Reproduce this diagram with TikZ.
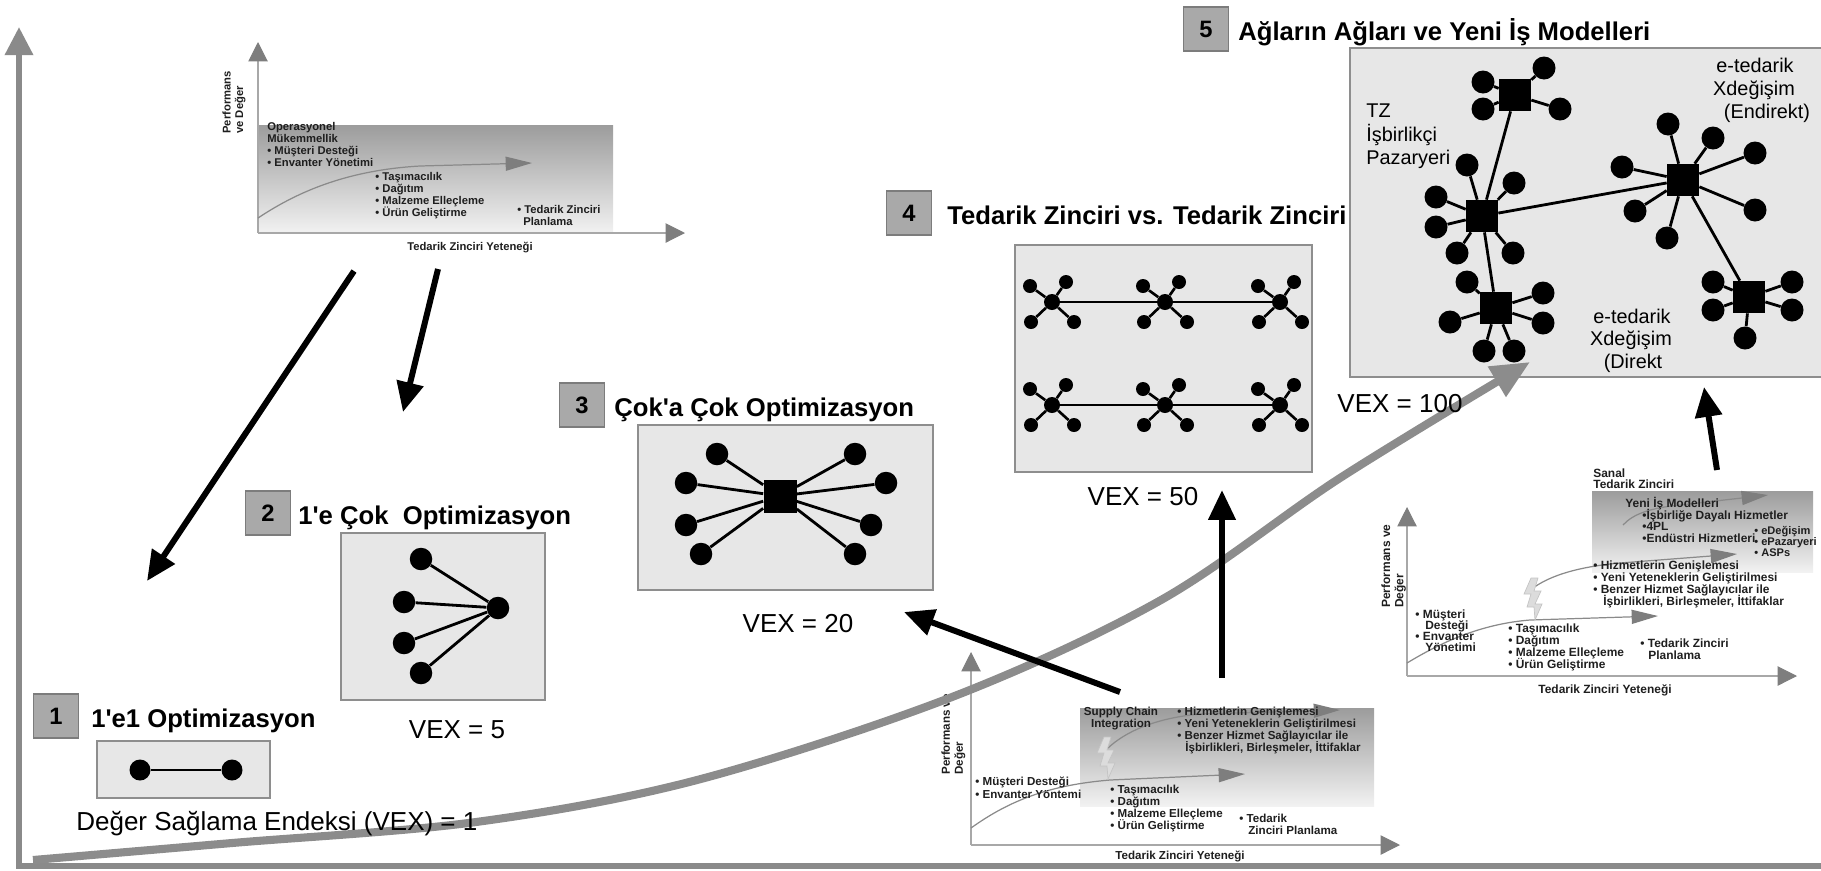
\documentclass[tikz,border=0pt]{standalone}
\usepackage{fontspec}
\setmainfont{Liberation Sans}
\usetikzlibrary{arrows.meta}

\definecolor{numfill}{HTML}{A9A9A9}
\definecolor{numedge}{HTML}{7C7C7C}
\definecolor{panelfill}{HTML}{E7E7E7}
\definecolor{paneledge}{HTML}{8E8E8E}
\definecolor{axisgray}{HTML}{8A8A8A}
\definecolor{growthgray}{HTML}{8C8C8C}
\definecolor{minorline}{HTML}{A8A8A8}
\definecolor{minorhead}{HTML}{7E7E7E}
\definecolor{trendline}{HTML}{8A8A8A}
\definecolor{shadetop}{HTML}{9C9C9C}
\definecolor{shadebottom}{HTML}{F2F2F2}
\definecolor{chartink}{HTML}{1E1E1E}
\definecolor{boltfill}{HTML}{DCDCDC}
\definecolor{boltedge}{HTML}{C4C4C4}

% one line of small chart text per entry, stacked downwards
\newcommand\chartlines[5]{%
  \foreach \cl [count=\i from 0] in {#5}{\node[chartlbl] (#1-\i) at (#2,{#3+#4*\i}) {\cl};}}

\tikzset{
  bolt/.pic={\filldraw[fill=boltfill,draw=boltedge,line width=0.4pt]
    (0,0) -- (7,0) -- (3,13) -- (10,13) -- (4,26) -- (11,26) -- (4,42) -- (3,29) -- (-4,29) -- (0,16) -- (-7,16) -- cycle;}
}

\begin{document}
\begin{tikzpicture}[x=0.02cm, y=-0.02cm,
  numbox/.style={draw=numedge, fill=numfill, line width=0.9pt, minimum width=0.9cm, minimum height=0.88cm, inner sep=0pt, font=\bfseries\fontsize{13.5}{15}\selectfont},
  heading/.style={anchor=base west, inner sep=0pt, font=\bfseries\fontsize{14.6}{17}\selectfont},
  vexlabel/.style={anchor=base, inner sep=0pt, font=\fontsize{14.8}{17}\selectfont},
  panel/.style={draw=paneledge, fill=panelfill, line width=0.9pt},
  dot/.style={circle, fill=black, inner sep=0pt, minimum size=0.45cm},
  hub/.style={rectangle, fill=black, inner sep=0pt, minimum size=0.64cm},
  link/.style={line width=1.6pt},
  sdot/.style={circle, fill=black, inner sep=0pt, minimum size=0.28cm},
  shub/.style={circle, fill=black, inner sep=0pt, minimum size=0.32cm},
  slink/.style={line width=1.5pt},
  sbar/.style={line width=1.1pt},
  jump/.style={line width=3.4pt, -{Triangle[length=17pt,width=15pt]}},
  mainaxis/.style={draw=axisgray, line width=3.4pt},
  growth/.style={draw=growthgray, line width=4.6pt, -{Triangle[length=22pt,width=19pt]}},
  smallaxis/.style={draw=minorline, line width=0.6pt, -{Triangle[length=11pt,width=11pt,color=minorhead]}},
  trend/.style={draw=trendline, line width=0.7pt, -{Triangle[length=15pt,width=8pt,color=minorhead]}},
  chartlbl/.style={anchor=base west, inner sep=0pt, text=chartink, font=\bfseries\fontsize{6.4}{7.2}\selectfont},
  chartcap/.style={chartlbl, anchor=base},
  ylab/.style={chartlbl, rotate=90, anchor=north west, align=left},
  netlbl/.style={anchor=base, inner sep=0pt, font=\fontsize{11.3}{13}\selectfont},
  netlblw/.style={netlbl, anchor=base west},
]
\useasboundingbox (0,0) rectangle (1821,870);
\clip (0,0) rectangle (1821,870);

% ---------------- main axes ----------------
\coordinate (origin) at (19,866);
\coordinate (ytop) at (19,27);
\coordinate (xend) at (1840,866);
\draw[mainaxis, {Triangle[length=16pt,width=15.5pt,color=axisgray]}-] (ytop) -- (origin) -- (xend);

% ---------------- stage 1 ----------------
\node[numbox] (n1) at (56,716) {1};
\node[heading] (t1) at (91,727) {1\textquotesingle e1 Optimizasyon};
\path[panel] (97,741) rectangle (270,798);
\node[dot, minimum size=0.42cm] (a1) at (140,770) {};
\node[dot, minimum size=0.42cm] (a2) at (232,770) {};
\draw[link] (a1) -- (a2);

% ---------------- stage 2 ----------------
\node[numbox] (n2) at (268,513) {2};
\node[heading] (t2) at (298,524) {1\textquotesingle e Çok\ \ Optimizasyon};
\path[panel] (341,533) rectangle (545,700);
\node[dot] (b0) at (498,608) {};
\node[dot] (b1) at (421,559) {};
\node[dot] (b2) at (404,602) {};
\node[dot] (b3) at (404,643) {};
\node[dot] (b4) at (421,673) {};
\foreach \k in {1,...,4} \draw[link] (b0) -- (b\k);

% ---------------- stage 3 ----------------
\node[numbox] (n3) at (582,405) {3};
\node[heading] (t3) at (614,416) {Çok\textquotesingle a Çok Optimizasyon};
\path[panel] (638,425) rectangle (933,590);
\node[hub, minimum size=0.66cm] (c0) at (780,496) {};
\foreach \k/\px/\py in {1/717/454, 2/686/483, 3/686/525, 4/701/554, 5/855/454, 6/886/483, 7/871/525, 8/855/554}{
  \node[dot] (c\k) at (\px,\py) {};
  \draw[link] (c0) -- (c\k);
}

% ---------------- stage 4 ----------------
\node[numbox] (n4) at (909,213) {4};
\node[heading] (t4) at (947,224) {Tedarik Zinciri vs. Tedarik Zinciri};
\path[panel] (1015,245) rectangle (1312,472);
\foreach \r/\yy in {a/302, b/405}{
  \foreach \c/\xx in {1/1052, 2/1165, 3/1280}{
    \node[shub] (s\r\c) at (\xx,\yy) {};
    \foreach \k/\dx/\dy in {1/-22/-16, 2/14/-20, 3/-21/20, 4/22/20}{
      \node[sdot] (s\r\c d\k) at ({\xx+(\dx)},{\yy+(\dy)}) {};
      \draw[slink] (s\r\c) -- (s\r\c d\k);
    }
  }
  \draw[sbar] (s\r1) -- (s\r2) -- (s\r3);
}

% ---------------- stage 5 ----------------
\node[numbox] (n5) at (1206,29) {5};
\node[heading] (t5) at (1238,40) {Ağların Ağları ve Yeni İş Modelleri};
\path[panel] (1350,48) rectangle (1840,377);
\node[hub] (h1) at (1515,95) {};
\node[hub] (h2) at (1482,216) {};
\node[hub] (h3) at (1496,308) {};
\node[hub] (h4) at (1683,180) {};
\node[hub] (h5) at (1749,297) {};
\draw[link] (h2) -- (h1);
\draw[link] (h2) -- (h3);
\draw[link] (h2) -- (h4);
\draw[link] (h4) -- (h5);
\foreach \h/\k/\px/\py in {
  1/1/1483/82, 1/2/1483/109, 1/3/1544/68, 1/4/1560/109,
  2/1/1467/165, 2/2/1514/183, 2/3/1436/197, 2/4/1436/227, 2/5/1457/253, 2/6/1513/253,
  3/1/1467/282, 3/2/1543/293, 3/3/1450/322, 3/4/1543/323, 3/5/1484/351, 3/6/1514/351,
  4/1/1668/124, 4/2/1713/138, 4/3/1755/153, 4/4/1622/167, 4/5/1635/211, 4/6/1755/210, 4/7/1667/238,
  5/1/1713/282, 5/2/1792/282, 5/3/1713/310, 5/4/1792/310, 5/5/1745/338}{
  \node[dot, minimum size=0.46cm] (h\h d\k) at (\px,\py) {};
  \draw[link] (h\h) -- (h\h d\k);
}
\node[netlblw] (tz1) at (1366,117) {TZ};
\node[netlblw] (tz2) at (1366,141) {İşbirlikçi};
\node[netlblw] (tz3) at (1366,164) {Pazaryeri};
\node[netlbl] (ei1) at (1755,72) {e-tedarik};
\node[netlbl] (ei2) at (1754,95) {Xdeğişim};
\node[netlbl] (ei3) at (1767,118) {(Endirekt)};
\node[netlbl] (ed1) at (1632,323) {e-tedarik};
\node[netlbl] (ed2) at (1631,345) {Xdeğişim};
\node[netlbl] (ed3) at (1633,368) {(Direkt};

% ---------------- small chart: operational excellence ----------------
\shade[top color=shadetop, bottom color=shadebottom] (258,125) rectangle (613,233);
\coordinate (tlO) at (258,233);
\coordinate (tlY) at (258,42);
\coordinate (tlX) at (685,233);
\draw[smallaxis] (tlO) -- (tlY);
\draw[smallaxis] (tlO) -- (tlX);
\coordinate (tlS) at (258,218);
\coordinate (tlE) at (532,163);
\draw[trend] (tlS) .. controls (300,190) and (350,170) .. (420,166) -- (tlE);
\chartlines{tlA}{267}{130}{12}{Operasyonel,Mükemmellik,{• Müşteri Desteği},{• Envanter Yönetimi}}
\chartlines{tlB}{375}{180}{12}{{• Taşımacılık},{• Dağıtım},{• Malzeme Elleçleme},{• Ürün Geliştirme}}
\node[chartlbl] (tlC) at (517,213) {• Tedarik Zinciri};
\node[chartlbl] (tlD) at (523,225) {Planlama};
\node[chartcap] (tlCap) at (470,250) {Tedarik Zinciri Yeteneği};
\node[ylab] (tlLab) at (222,134) {Performans\\ve Değer};

% ---------------- small chart: supply chain integration ----------------
\begin{scope}[chartlbl/.append style={font=\bfseries\fontsize{6.6}{7.4}\selectfont}]
\shade[top color=shadetop, bottom color=shadebottom] (1080,708) rectangle (1374,806);
\coordinate (bcO) at (971,845);
\coordinate (bcY) at (971,652);
\coordinate (bcX) at (1400,845);
\draw[smallaxis] (bcO) -- (bcY);
\draw[smallaxis] (bcO) -- (bcX);
\draw[trend] (971,828) .. controls (1010,800) and (1050,785) .. (1110,780) -- (1245,774);
\draw[trend] (1108,748) .. controls (1125,732) and (1155,718) .. (1200,714) -- (1340,710);
\pic at (1104,737) {bolt};
\node[chartcap] (bcS1) at (1121,715) {Supply Chain};
\node[chartcap] (bcS2) at (1121,727) {Integration};
\chartlines{bcA}{1177}{715}{12}{{• Hizmetlerin Genişlemesi},{• Yeni Yeteneklerin Geliştirilmesi},{• Benzer Hizmet Sağlayıcılar ile}}
\node[chartlbl] (bcA3) at (1185,751) {İşbirlikleri, Birleşmeler, İttifaklar};
\chartlines{bcB}{975}{785}{13}{{• Müşteri Desteği},{• Envanter Yöntemi}}
\chartlines{bcC}{1110}{793}{12}{{• Taşımacılık},{• Dağıtım},{• Malzeme Elleçleme},{• Ürün Geliştirme}}
\node[chartlbl] (bcD) at (1239,822) {• Tedarik};
\node[chartlbl] (bcE) at (1248,834) {Zinciri Planlama};
\node[chartcap] (bcCap) at (1180,859) {Tedarik Zinciri Yeteneği};
\node[ylab] (bcLab) at (941,775) {Performans ve\\Değer};
\end{scope}

% ---------------- small chart: virtual supply chain ----------------
\begin{scope}[chartlbl/.append style={font=\bfseries\fontsize{6.8}{7.6}\selectfont}]
\shade[top color=shadetop, bottom color=shadebottom] (1592,491) rectangle (1813,572);
\coordinate (brO) at (1407,676);
\coordinate (brY) at (1407,507);
\coordinate (brX) at (1797,676);
\draw[smallaxis] (brO) -- (brY);
\draw[smallaxis] (brO) -- (brX);
\draw[trend] (1407,663) .. controls (1440,643) and (1480,624) .. (1530,620) -- (1658,616);
\draw[trend] (1528,592) .. controls (1545,577) and (1575,567) .. (1620,563) -- (1737,554);
\draw[trend] (1623,525) .. controls (1633,514) and (1650,508) .. (1680,505) -- (1768,495);
\pic at (1531,578) {bolt};
\chartlines{brS}{1593}{477}{11.5}{Sanal,{Tedarik Zinciri}}
\node[chartlbl] (brN) at (1625,507) {Yeni İş Modelleri};
\chartlines{brM}{1642}{519}{11.5}{{•İşbirliğe Dayalı Hizmetler},{•4PL},{•Endüstri Hizmetleri}}
\begin{scope}[chartlbl/.append style={font=\bfseries\fontsize{6.3}{7}\selectfont}]
\chartlines{brE}{1754}{534}{11}{{• eDeğişim},{• ePazaryeri},{• ASPs}}
\end{scope}
\chartlines{brA}{1593}{569}{12}{{• Hizmetlerin Genişlemesi},{• Yeni Yeteneklerin Geliştirilmesi},{• Benzer Hizmet Sağlayıcılar ile}}
\node[chartlbl] (brA3) at (1603,605) {İşbirlikleri, Birleşmeler, İttifaklar};
\node[chartlbl] (brB0) at (1415,618) {• Müşteri};
\node[chartlbl] (brB1) at (1425,629) {Desteği};
\node[chartlbl] (brB2) at (1415,640) {• Envanter};
\node[chartlbl] (brB3) at (1425,651) {Yönetimi};
\chartlines{brC}{1508}{632}{12}{{• Taşımacılık},{• Dağıtım},{• Malzeme Elleçleme},{• Ürün Geliştirme}}
\node[chartlbl] (brD) at (1640,647) {• Tedarik Zinciri};
\node[chartlbl] (brD2) at (1648,659) {Planlama};
\node[chartcap] (brCap) at (1605,693) {Tedarik Zinciri Yeteneği};
\node[ylab] (brLab) at (1381,608) {Performans ve\\Değer};
\end{scope}

% ---------------- value growth curve ----------------
\draw[growth] plot[smooth, tension=0.55] coordinates {(33,860) (232,843) (476,822) (697,780) (952,697) (1161,600) (1340,478) (1530,362)};

% ---------------- transition arrows ----------------
\coordinate (j1s) at (354,271);  \coordinate (j1e) at (147,581);
\coordinate (j2s) at (438,269);  \coordinate (j2e) at (403,412);
\coordinate (j3s) at (1120,692); \coordinate (j3e) at (904,612);
\coordinate (j4s) at (1222,678); \coordinate (j4e) at (1222,490);
\coordinate (j5s) at (1717,470); \coordinate (j5e) at (1704,387);
\draw[jump] (j1s) -- (j1e);
\draw[jump] (j2s) -- (j2e);
\draw[jump] (j3s) -- (j3e);
\draw[jump] (j4s) -- (j4e);
\draw[jump] (j5s) -- (j5e);

% ---------------- value index labels ----------------
\node[vexlabel, anchor=base west] (vex1) at (76,830) {Değer Sağlama Endeksi (VEX) = 1};
\node[vexlabel] (vex5) at (457,738) {VEX = 5};
\node[vexlabel] (vex20) at (798,632) {VEX = 20};
\node[vexlabel] (vex50) at (1143,505) {VEX = 50};
\node[vexlabel] (vex100) at (1400,412) {VEX = 100};
\end{tikzpicture}
\end{document}
